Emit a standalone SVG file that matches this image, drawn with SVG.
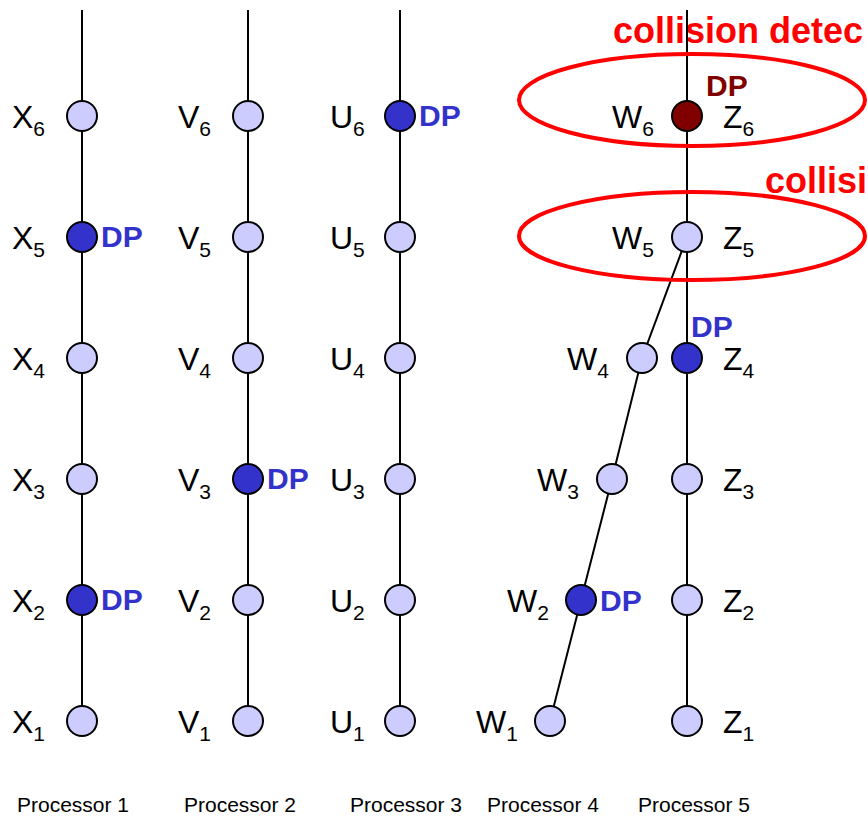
<svg xmlns="http://www.w3.org/2000/svg" width="868" height="816" viewBox="0 0 868 816">
  <style>
    .lbl { font-family: "Liberation Sans", Arial, sans-serif; font-size: 32px; fill: #000; }
    .sub { font-size: 21px; }
    .dp { font-family: "Liberation Sans", Arial, sans-serif; font-size: 30px; font-weight: bold; fill: #3333cc; }
    .dp-red { fill: #800000; }
    .note { font-family: "Liberation Sans", Arial, sans-serif; font-size: 36px; font-weight: bold; fill: #ff0000; }
    .proc { font-family: "Liberation Sans", Arial, sans-serif; font-size: 21px; fill: #000; text-anchor: middle; }
    .edge { stroke: #000; stroke-width: 2; fill: none; }
    .node { stroke: #000; stroke-width: 2; fill: #ccccff; }
    .node.dist { fill: #3333cc; }
    .node.hit { fill: #800000; }
    .ring { stroke: #ff0000; stroke-width: 4; fill: none; }
  </style>

  <!-- collision callouts (run off the right edge) -->
  <text class="note" x="613" y="43">collision detec</text>
  <text class="note" x="765" y="193">collisi</text>

  <!-- chains -->
  <g id="connectors">
    <line class="edge" x1="82" y1="10" x2="82" y2="721"/>
    <line class="edge" x1="248" y1="10" x2="248" y2="721"/>
    <line class="edge" x1="400" y1="10" x2="400" y2="721"/>
    <line class="edge" x1="687" y1="10" x2="687" y2="721"/>
    <polyline class="edge" points="550,721 581,600 612,479 642,358 687,237"/>
  </g>

  <!-- collision rings -->
  <ellipse class="ring" cx="692" cy="100" rx="173" ry="46"/>
  <ellipse class="ring" cx="692" cy="236" rx="173" ry="44"/>

  <!-- Processor 1: X chain -->
  <g id="X6"><circle class="node" cx="82" cy="116" r="15"/><text class="lbl" x="12" y="128">X<tspan class="sub" dy="8">6</tspan></text></g>
  <g id="X5"><circle class="node dist" cx="82" cy="237" r="15"/><text class="lbl" x="12" y="249">X<tspan class="sub" dy="8">5</tspan></text><text class="dp" x="101" y="247">DP</text></g>
  <g id="X4"><circle class="node" cx="82" cy="358" r="15"/><text class="lbl" x="12" y="370">X<tspan class="sub" dy="8">4</tspan></text></g>
  <g id="X3"><circle class="node" cx="82" cy="479" r="15"/><text class="lbl" x="12" y="491">X<tspan class="sub" dy="8">3</tspan></text></g>
  <g id="X2"><circle class="node dist" cx="82" cy="600" r="15"/><text class="lbl" x="12" y="612">X<tspan class="sub" dy="8">2</tspan></text><text class="dp" x="101" y="610">DP</text></g>
  <g id="X1"><circle class="node" cx="82" cy="721" r="15"/><text class="lbl" x="12" y="733">X<tspan class="sub" dy="8">1</tspan></text></g>

  <!-- Processor 2: V chain -->
  <g id="V6"><circle class="node" cx="248" cy="116" r="15"/><text class="lbl" x="178" y="128">V<tspan class="sub" dy="8">6</tspan></text></g>
  <g id="V5"><circle class="node" cx="248" cy="237" r="15"/><text class="lbl" x="178" y="249">V<tspan class="sub" dy="8">5</tspan></text></g>
  <g id="V4"><circle class="node" cx="248" cy="358" r="15"/><text class="lbl" x="178" y="370">V<tspan class="sub" dy="8">4</tspan></text></g>
  <g id="V3"><circle class="node dist" cx="248" cy="479" r="15"/><text class="lbl" x="178" y="491">V<tspan class="sub" dy="8">3</tspan></text><text class="dp" x="267" y="489">DP</text></g>
  <g id="V2"><circle class="node" cx="248" cy="600" r="15"/><text class="lbl" x="178" y="612">V<tspan class="sub" dy="8">2</tspan></text></g>
  <g id="V1"><circle class="node" cx="248" cy="721" r="15"/><text class="lbl" x="178" y="733">V<tspan class="sub" dy="8">1</tspan></text></g>

  <!-- Processor 3: U chain -->
  <g id="U6"><circle class="node dist" cx="400" cy="116" r="15"/><text class="lbl" x="330" y="128">U<tspan class="sub" dy="8">6</tspan></text><text class="dp" x="419" y="126">DP</text></g>
  <g id="U5"><circle class="node" cx="400" cy="237" r="15"/><text class="lbl" x="330" y="249">U<tspan class="sub" dy="8">5</tspan></text></g>
  <g id="U4"><circle class="node" cx="400" cy="358" r="15"/><text class="lbl" x="330" y="370">U<tspan class="sub" dy="8">4</tspan></text></g>
  <g id="U3"><circle class="node" cx="400" cy="479" r="15"/><text class="lbl" x="330" y="491">U<tspan class="sub" dy="8">3</tspan></text></g>
  <g id="U2"><circle class="node" cx="400" cy="600" r="15"/><text class="lbl" x="330" y="612">U<tspan class="sub" dy="8">2</tspan></text></g>
  <g id="U1"><circle class="node" cx="400" cy="721" r="15"/><text class="lbl" x="330" y="733">U<tspan class="sub" dy="8">1</tspan></text></g>

  <!-- Processor 4: W chain (merges into Z at step 5) -->
  <g id="W4"><circle class="node" cx="642" cy="358" r="15"/><text class="lbl" x="567" y="370">W<tspan class="sub" dy="8">4</tspan></text></g>
  <g id="W3"><circle class="node" cx="612" cy="479" r="15"/><text class="lbl" x="537" y="491">W<tspan class="sub" dy="8">3</tspan></text></g>
  <g id="W2"><circle class="node dist" cx="581" cy="600" r="15"/><text class="lbl" x="507" y="612">W<tspan class="sub" dy="8">2</tspan></text><text class="dp" x="600" y="611">DP</text></g>
  <g id="W1"><circle class="node" cx="550" cy="721" r="15"/><text class="lbl" x="476" y="733">W<tspan class="sub" dy="8">1</tspan></text></g>

  <!-- Processor 5: Z chain -->
  <g id="Z6"><circle class="node hit" cx="687" cy="116" r="15"/><text class="lbl" x="612" y="128">W<tspan class="sub" dy="8">6</tspan></text><text class="lbl" x="723" y="128">Z<tspan class="sub" dy="8">6</tspan></text><text class="dp dp-red" x="706" y="96">DP</text></g>
  <g id="Z5"><circle class="node" cx="687" cy="237" r="15"/><text class="lbl" x="612" y="249">W<tspan class="sub" dy="8">5</tspan></text><text class="lbl" x="723" y="249">Z<tspan class="sub" dy="8">5</tspan></text></g>
  <g id="Z4"><circle class="node dist" cx="687" cy="358" r="15"/><text class="lbl" x="723" y="370">Z<tspan class="sub" dy="8">4</tspan></text><text class="dp" x="691" y="337">DP</text></g>
  <g id="Z3"><circle class="node" cx="687" cy="479" r="15"/><text class="lbl" x="723" y="491">Z<tspan class="sub" dy="8">3</tspan></text></g>
  <g id="Z2"><circle class="node" cx="687" cy="600" r="15"/><text class="lbl" x="723" y="612">Z<tspan class="sub" dy="8">2</tspan></text></g>
  <g id="Z1"><circle class="node" cx="687" cy="721" r="15"/><text class="lbl" x="723" y="733">Z<tspan class="sub" dy="8">1</tspan></text></g>

  <!-- processor captions -->
  <text class="proc" x="73" y="812">Processor 1</text>
  <text class="proc" x="240" y="812">Processor 2</text>
  <text class="proc" x="406" y="812">Processor 3</text>
  <text class="proc" x="543" y="812">Processor 4</text>
  <text class="proc" x="694" y="812">Processor 5</text>
</svg>
